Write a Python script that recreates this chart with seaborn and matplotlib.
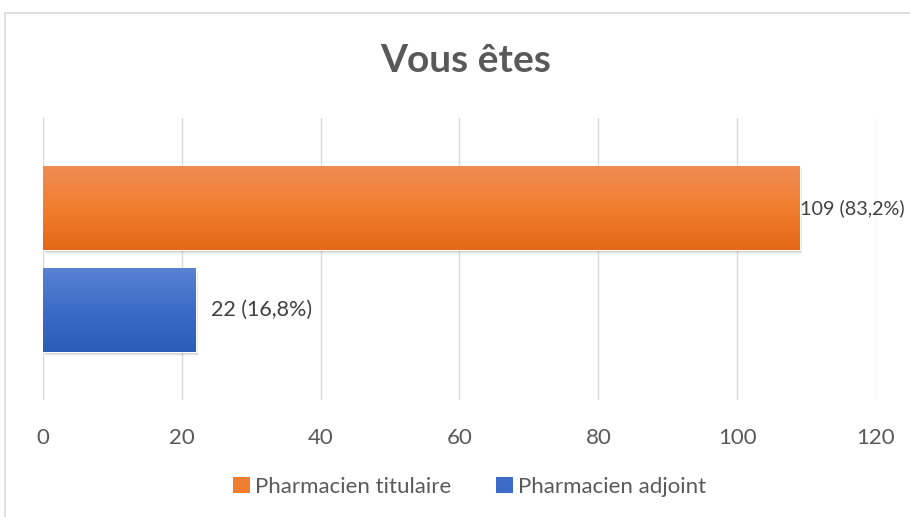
import numpy as np
import pandas as pd
import seaborn as sns
import matplotlib.pyplot as plt
from matplotlib.patches import Patch, Rectangle
from matplotlib.colors import LinearSegmentedColormap

categories = ['Pharmacien titulaire', 'Pharmacien adjoint']
counts = [109, 22]
labels = ['109 (83,2%)', '22 (16,8%)']
x_ticks = [0, 20, 40, 60, 80, 100, 120]
title = 'Vous êtes'

colors = ['#F07E2E', '#3D6CC8']
grad_top = ['#F18C55', '#5A83D2']
grad_bottom = ['#E56818', '#2C5DB6']

sns.set_style('white')
plt.rcParams['font.family'] = ['Lato', 'DejaVu Sans']

df = pd.DataFrame({'cat': categories, 'n': counts})

fig = plt.figure(figsize=(9.1, 5.17), dpi=100)
ax = fig.add_axes([43 / 910, 1 - 400 / 517, 833 / 910, 282 / 517])

sns.barplot(data=df, y='cat', x='n', hue='cat', palette=colors, orient='h',
            dodge=False, width=0.83, legend=False, ax=ax, zorder=3)

ax.set_xlim(0, 120)
ax.set_ylim(1.88, -0.88)
ax.set_xticks(x_ticks)
ax.set_xticklabels([str(t) for t in x_ticks])
ax.set_yticks([])
ax.set_xlabel('')
ax.set_ylabel('')
ax.tick_params(axis='x', length=0, pad=20, labelsize=16, labelcolor='#595959')
for s in ax.spines.values():
    s.set_visible(False)
ax.grid(axis='x', color='#d9d9d9', linewidth=1, zorder=0)
ax.set_axisbelow(True)

# gradient fill + soft shadow
for i, bar in enumerate(ax.patches):
    x0, y0 = bar.get_x(), bar.get_y()
    w, h = bar.get_width(), bar.get_height()
    for k, a in enumerate([0.10, 0.07, 0.04]):
        ax.add_patch(Rectangle((x0 + 0.15 + k * 0.12, y0 + 0.015 + k * 0.012), w, h,
                               color='black', alpha=a, lw=0, zorder=2))
    cmap = LinearSegmentedColormap.from_list('g', [grad_top[i], colors[i], grad_bottom[i]])
    img = ax.imshow(np.linspace(0, 1, 100).reshape(-1, 1), cmap=cmap, aspect='auto',
                    extent=[x0, x0 + w, y0 + h, y0], zorder=4)
    img.set_clip_path(bar)
    end = x0 + w
    # near the right edge the label sits tight against the bar, a bit smaller
    if end + 20 < 120:
        gap, fs = 2.2, 15.5
    else:
        gap, fs = 0.1, 14.2
    ax.text(end + gap, y0 + h / 2, labels[i], va='center', ha='left',
            fontsize=fs, color='#404040', zorder=5, clip_on=False)

ax.set_xlim(0, 120)
ax.set_ylim(1.88, -0.88)

fig.text(0.512, 1 - 60 / 517, title, ha='center', va='center', fontsize=28,
         fontweight='bold', color='#595959')

handles = [Patch(facecolor=c, edgecolor='none') for c in colors]
fig.legend(handles, categories, loc='center', bbox_to_anchor=(0.516, 1 - 487 / 517),
           ncol=2, frameon=False, fontsize=16, handlelength=0.75, handleheight=0.75,
           handletextpad=0.25, columnspacing=2.0, labelcolor='#595959')

# chart border
fig.add_artist(plt.Line2D([5 / 910, 5 / 910], [0, 1 - 13 / 517], color='#d9d9d9', lw=1.2))
fig.add_artist(plt.Line2D([5 / 910, 1], [1 - 13 / 517, 1 - 13 / 517], color='#d9d9d9', lw=1.2))

fig.savefig('out.png', dpi=100)
